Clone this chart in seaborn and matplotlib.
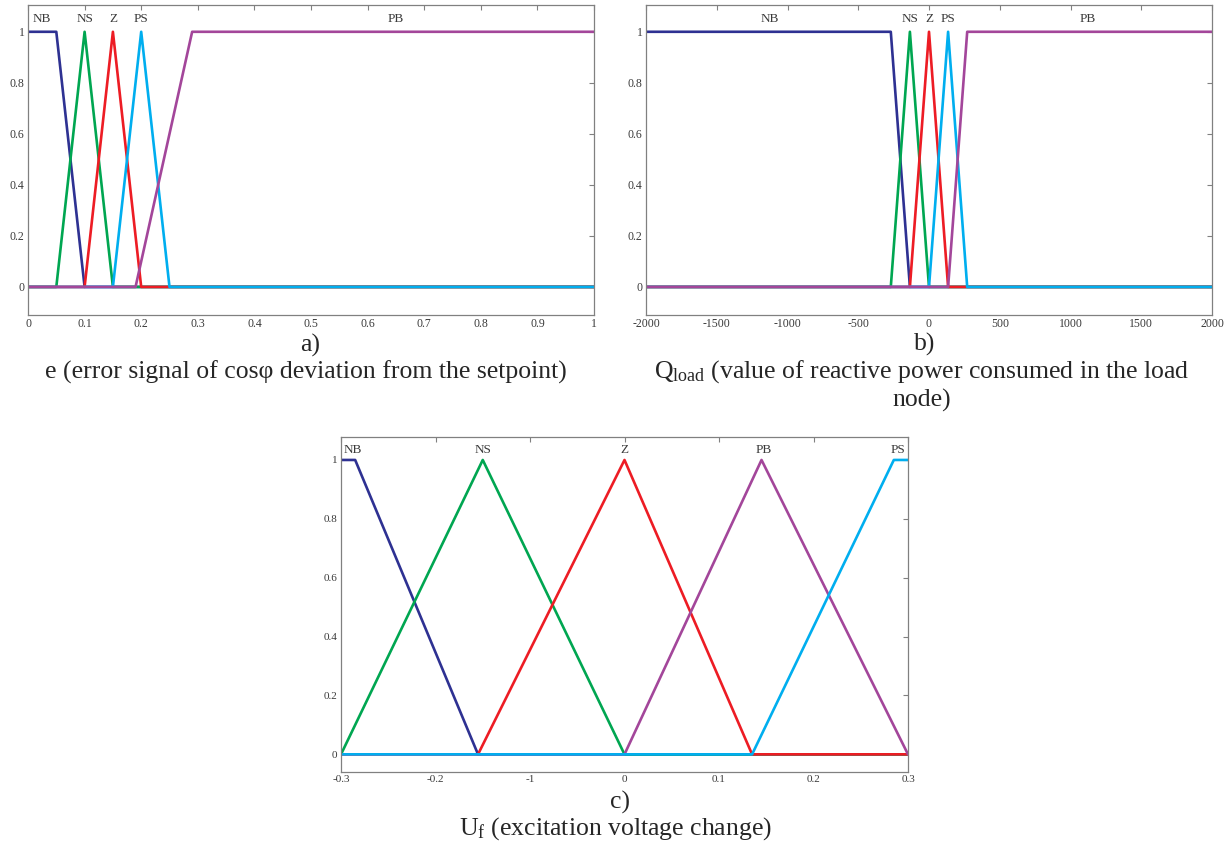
import matplotlib
matplotlib.use("Agg")
import matplotlib.pyplot as plt
import seaborn as sns
import pandas as pd

# --- membership functions, panel a): e ---
e_nb_x = [0, 0.05, 0.10, 1.0]
e_nb_y = [1, 1, 0, 0]
e_ns_x = [0, 0.05, 0.10, 0.15, 1.0]
e_ns_y = [0, 0, 1, 0, 0]
e_z_x = [0, 0.10, 0.15, 0.20, 1.0]
e_z_y = [0, 0, 1, 0, 0]
e_ps_x = [0, 0.15, 0.20, 0.25, 1.0]
e_ps_y = [0, 0, 1, 0, 0]
e_pb_x = [0, 0.19, 0.29, 1.0]
e_pb_y = [0, 0, 1, 1]

# --- panel b): Qload ---
q_nb_x = [-2000, -270, -135, 2000]
q_nb_y = [1, 1, 0, 0]
q_ns_x = [-2000, -270, -135, 0, 2000]
q_ns_y = [0, 0, 1, 0, 0]
q_z_x = [-2000, -135, 0, 135, 2000]
q_z_y = [0, 0, 1, 0, 0]
q_ps_x = [-2000, 0, 135, 270, 2000]
q_ps_y = [0, 0, 1, 0, 0]
q_pb_x = [-2000, 135, 270, 2000]
q_pb_y = [0, 0, 1, 1]

# --- panel c): Uf ---
u_nb_x = [-0.3, -0.285, -0.155, 0.3]
u_nb_y = [1, 1, 0, 0]
u_ns_x = [-0.3, -0.15, 0, 0.3]
u_ns_y = [0, 1, 0, 0]
u_z_x = [-0.3, -0.155, 0, 0.135, 0.3]
u_z_y = [0, 0, 1, 0, 0]
u_pb_x = [-0.3, 0, 0.145, 0.3]
u_pb_y = [0, 0, 1, 0]
u_ps_x = [-0.3, 0.135, 0.285, 0.3]
u_ps_y = [0, 0, 1, 1]

# set labels written above the curves
e_lbl = ["NB", "NS", "Z", "PS", "PB"]
e_lbl_x = [0.025, 0.10, 0.15, 0.20, 0.65]
q_lbl = ["NB", "NS", "Z", "PS", "PB"]
q_lbl_x = [-1125, -135, 0, 135, 1125]
u_lbl = ["NB", "NS", "Z", "PB", "PS"]
u_lbl_x = [-0.287, -0.15, 0, 0.147, 0.289]

# tick labels
ab_yticks = [0, 0.2, 0.4, 0.6, 0.8, 1]
ab_yticklabels = ["0", "0.2", "0.4", "0.6", "0.8", "1"]
e_xticks = [0, 0.1, 0.2, 0.3, 0.4, 0.5, 0.6, 0.7, 0.8, 0.9, 1]
e_xticklabels = ["0", "0.1", "0.2", "0.3", "0.4", "0.5", "0.6", "0.7", "0.8", "0.9", "1"]
q_xticks = [-2000, -1500, -1000, -500, 0, 500, 1000, 1500, 2000]
q_xticklabels = ["-2000", "-1500", "-1000", "-500", "0", "500", "1000", "1500", "2000"]
u_xticks = [-0.3, -0.2, -0.1, 0, 0.1, 0.2, 0.3]
u_xticklabels = ["-0.3", "-0.2", "-1", "0", "0.1", "0.2", "0.3"]

colors = {"NB": "#2e3192", "NS": "#00a651", "Z": "#ed1c24",
          "PS": "#00aeef", "PB": "#a3469a"}

sns.set_theme(style="white")
plt.rcParams['font.family'] = ['Liberation Serif', 'DejaVu Serif']
plt.rcParams['mathtext.fontset'] = 'custom'
plt.rcParams['mathtext.rm'] = 'Liberation Serif'

fig = plt.figure(figsize=(12.31, 8.47), dpi=100)
W, H = 1231, 847


def make_ax(l, r, t, b):
    return fig.add_axes([l / W, 1 - b / H, (r - l) / W, (b - t) / H])


def draw(ax, curves, order, xlim, ylim, xticks, xticklabels, lbls, lbl_x, lbl_y, fs):
    rows = []
    for name, (xs, ys) in curves.items():
        for x, y in zip(xs, ys):
            rows.append({"x": x, "mu": y, "set": name})
    df = pd.DataFrame(rows)
    sns.lineplot(data=df, x="x", y="mu", hue="set", hue_order=order,
                 palette=colors, sort=False, estimator=None, lw=1.9,
                 legend=False, ax=ax)
    ax.set_xlim(xlim)
    ax.set_ylim(ylim)
    ax.set_xticks(xticks)
    ax.set_xticklabels(xticklabels)
    ax.set_yticks(ab_yticks)
    ax.set_yticklabels(ab_yticklabels)
    ax.set_xlabel("")
    ax.set_ylabel("")
    ax.tick_params(direction="in", top=True, right=True, length=3.5, width=0.8,
                   color="#808080", labelsize=fs, labelcolor="#3a3a3a", pad=2.5)
    for s in ax.spines.values():
        s.set_color("#808080")
        s.set_linewidth(0.9)
    for t, x in zip(lbls, lbl_x):
        ax.text(x, lbl_y, t, ha="center", va="center", fontsize=9.5, color="#3a3a3a")


ax_a = make_ax(28, 594, 5, 315)
draw(ax_a, {"NB": (e_nb_x, e_nb_y), "NS": (e_ns_x, e_ns_y), "Z": (e_z_x, e_z_y),
            "PS": (e_ps_x, e_ps_y), "PB": (e_pb_x, e_pb_y)},
     ["NB", "NS", "Z", "PS", "PB"], (0, 1), (-0.11, 1.105),
     e_xticks, e_xticklabels, e_lbl, e_lbl_x, 1.05, 8.5)

ax_b = make_ax(646, 1212, 5, 315)
draw(ax_b, {"NB": (q_nb_x, q_nb_y), "NS": (q_ns_x, q_ns_y), "Z": (q_z_x, q_z_y),
            "PS": (q_ps_x, q_ps_y), "PB": (q_pb_x, q_pb_y)},
     ["NB", "NS", "Z", "PS", "PB"], (-2000, 2000), (-0.11, 1.105),
     q_xticks, q_xticklabels, q_lbl, q_lbl_x, 1.05, 8.5)

ax_c = make_ax(341, 908, 437, 772)
draw(ax_c, {"NB": (u_nb_x, u_nb_y), "NS": (u_ns_x, u_ns_y), "Z": (u_z_x, u_z_y),
            "PB": (u_pb_x, u_pb_y), "PS": (u_ps_x, u_ps_y)},
     ["NB", "NS", "Z", "PB", "PS"], (-0.3, 0.3), (-0.06, 1.078),
     u_xticks, u_xticklabels, u_lbl, u_lbl_x, 1.035, 8)

# captions
cap = 18.5
fig.text(310 / W, 1 - 345 / H, "a)", ha="center", va="center", fontsize=cap)
fig.text(306 / W, 1 - 372 / H, "e (error signal of cosφ deviation from the setpoint)",
         ha="center", va="center", fontsize=cap)
fig.text(925 / W, 1 - 344 / H, "b)", ha="center", va="center", fontsize=cap)
fig.text(922 / W, 1 - 372 / H,
         r"$\mathregular{Q_{load}}$ (value of reactive power consumed in the load",
         ha="center", va="center", fontsize=cap)
fig.text(922 / W, 1 - 400 / H, "node)", ha="center", va="center", fontsize=cap)
fig.text(620 / W, 1 - 802 / H, "c)", ha="center", va="center", fontsize=cap)
fig.text(615 / W, 1 - 829 / H, r"$\mathregular{U_{f}}$ (excitation voltage change)",
         ha="center", va="center", fontsize=cap)

fig.savefig("out.png", dpi=100)
